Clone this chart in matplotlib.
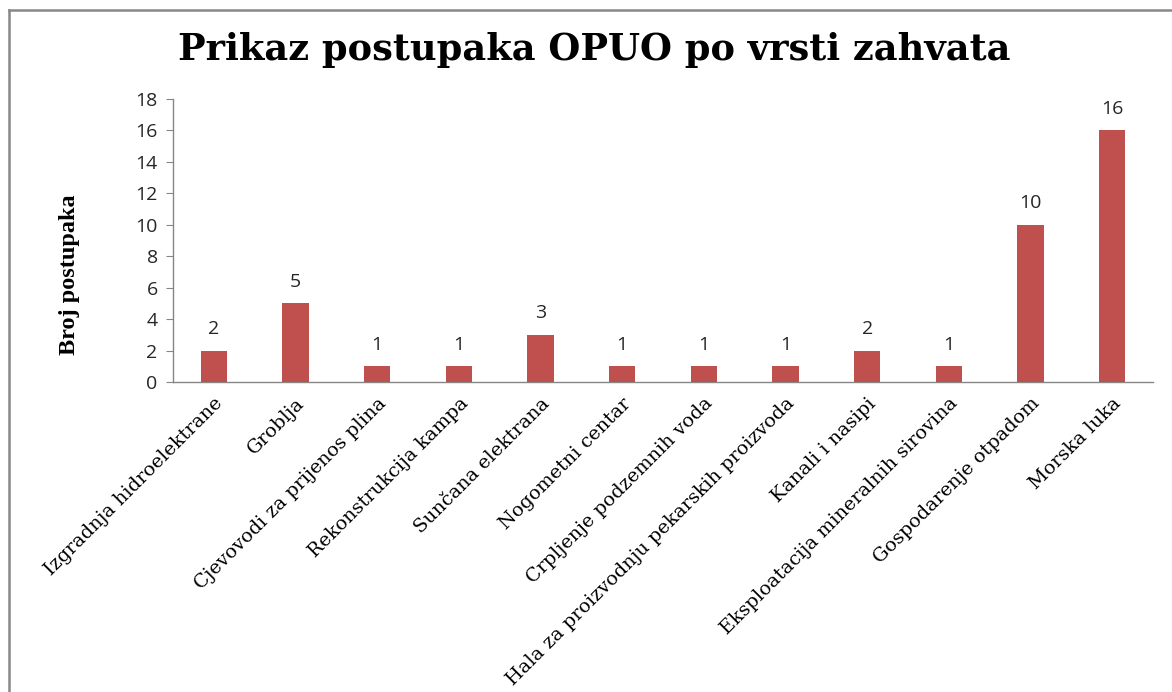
import matplotlib
matplotlib.use("Agg")
import matplotlib.pyplot as plt
from matplotlib.lines import Line2D

categories = ["Izgradnja hidroelektrane", "Groblja", "Cjevovodi za prijenos plina",
              "Rekonstrukcija kampa", "Sunčana elektrana", "Nogometni centar",
              "Crpljenje podzemnih voda", "Hala za proizvodnju pekarskih proizvoda",
              "Kanali i nasipi", "Eksploatacija mineralnih sirovina",
              "Gospodarenje otpadom", "Morska luka"]
values = [2, 5, 1, 1, 3, 1, 1, 1, 2, 1, 10, 16]
yticks = [0, 2, 4, 6, 8, 10, 12, 14, 16, 18]
title = "Prikaz postupaka OPUO po vrsti zahvata"
ylabel = "Broj postupaka"

W, H = 1172, 692
fig = plt.figure(figsize=(W / 100, H / 100), dpi=100)
ax = fig.add_axes([173 / W, 1 - 382 / H, (1153 - 173) / W, (382 - 99) / H])

x = list(range(len(categories)))
bars = ax.bar(x, values, width=0.32, color="#C0504D", zorder=3)
ax.set_xlim(-0.5, len(categories) - 0.5)
ax.set_ylim(0, 18)
ax.set_yticks(yticks)
ax.set_yticklabels([str(t) for t in yticks], fontfamily="Open Sans", fontsize=14, color="#262626")
ax.tick_params(axis="y", direction="out", length=5, color="#868686", pad=6)
ax.tick_params(axis="x", length=0, pad=9)
ax.set_xticks(x)
ax.set_xticklabels(categories, rotation=45, ha="right", va="top", rotation_mode="anchor",
                   fontfamily="DejaVu Serif", fontsize=13.8, color="#000000")
for s in ["top", "right"]:
    ax.spines[s].set_visible(False)
for s in ["left", "bottom"]:
    ax.spines[s].set_color("#868686")
    ax.spines[s].set_linewidth(1.0)

for xi, v in zip(x, values):
    ax.annotate(str(v), (xi, v), xytext=(0, 9), textcoords="offset points",
                ha="center", va="bottom", fontfamily="Open Sans", fontsize=14, color="#262626")

ax.set_ylabel(ylabel, fontfamily="Liberation Serif", fontweight="bold", fontsize=17.5)
ax.yaxis.set_label_coords(-0.095, 0.378)

fig.text(594 / W, 1 - 50 / H, title, ha="center", va="center",
         fontfamily="DejaVu Serif", fontweight="bold", fontsize=26.5)

fig.add_artist(Line2D([9 / W, 9 / W], [0, 1 - 10 / H], transform=fig.transFigure, color="#888888", lw=1.8))
fig.add_artist(Line2D([9 / W, 1], [1 - 10 / H, 1 - 10 / H], transform=fig.transFigure, color="#888888", lw=1.8))

fig.savefig("out.png", dpi=100)
